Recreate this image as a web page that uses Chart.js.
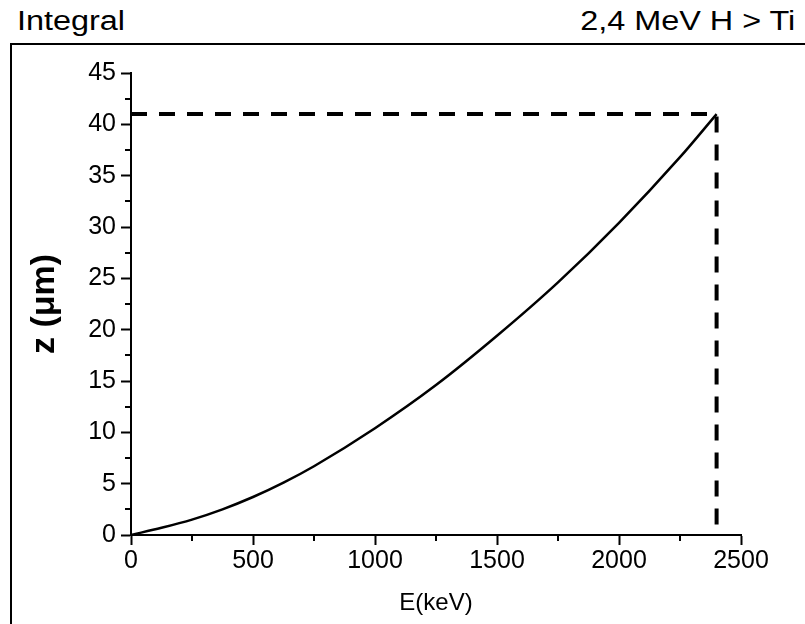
<!DOCTYPE html>
<html>
<head>
<meta charset="utf-8">
<script src="https://cdn.jsdelivr.net/npm/chart.js@4.4.1/dist/chart.umd.min.js"></script>
<style>
  body { margin:0; width:805px; height:624px; overflow:hidden; background:#fff; position:relative; font-family:"Liberation Sans", Arial, sans-serif; }
  .hdr { position:absolute; top:8px; font-size:27px; line-height:27px; color:#000; white-space:nowrap; }
  #hdrL { left:17px; transform:scaleX(1.2); transform-origin:left top; }
  #hdrR { right:10px; transform:scaleX(1.2); transform-origin:right top; }
  #box { position:absolute; left:10px; top:43px; width:820px; height:620px; border-left:2px solid #000; border-top:2px solid #000; }
  #chart { position:absolute; left:0; top:0; }
</style>
</head>
<body>
<div class="hdr" id="hdrL">Integral</div>
<div class="hdr" id="hdrR">2,4 MeV H &gt; Ti</div>
<div id="box"></div>
<canvas id="chart" width="805" height="624"></canvas>
<script>
// energia (keV) y profundidad (um)
var energyKeV = [0, 125, 250, 375, 500, 625, 750, 1000, 1250, 1500, 1750, 2000, 2250, 2400];
var depthUm   = [0, 0.7, 1.5, 2.5, 3.7, 5.1, 6.7, 10.4, 14.6, 19.4, 24.6, 30.4, 36.8, 41.0];

// linea discontinua hasta el punto final
var markerE = 2400;
var markerZ = 41;

var xTicks = [0, 500, 1000, 1500, 2000, 2500];
var yTicks = [0, 5, 10, 15, 20, 25, 30, 35, 40, 45];
var xMinor = [250, 750, 1250, 1750, 2250];
var yMinor = [2.5, 7.5, 12.5, 17.5, 22.5, 27.5, 32.5, 37.5, 42.5];

var curve = energyKeV.map(function (e, i) { return {x: e, y: depthUm[i]}; });
var dashed = [{x: 0, y: markerZ}, {x: markerE, y: markerZ}, {x: markerE, y: 0}];

// ticks menores, dibujados con las escalas de Chart.js
var minorTicks = {
    id: 'minorTicks',
    afterDraw: function (chart) {
        var ctx = chart.ctx;
        var xs = chart.scales.x, ys = chart.scales.y;
        ctx.save();
        ctx.strokeStyle = '#000';
        ctx.lineWidth = 2;
        ctx.beginPath();
        yMinor.forEach(function (v) {
            var py = Math.round(ys.getPixelForValue(v));
            ctx.moveTo(chart.chartArea.left - 6, py);
            ctx.lineTo(chart.chartArea.left, py);
        });
        xMinor.forEach(function (v) {
            var px = Math.round(xs.getPixelForValue(v));
            ctx.moveTo(px, chart.chartArea.bottom);
            ctx.lineTo(px, chart.chartArea.bottom + 6);
        });
        ctx.stroke();
        ctx.restore();
    }
};

var tickFont = {family: '"Liberation Sans", Arial, sans-serif', size: 25};
var plain = function (v) { return String(v); };

new Chart(document.getElementById('chart'), {
    type: 'line',
    data: {
        datasets: [
            {
                data: curve,
                borderColor: '#000',
                borderWidth: 2.5,
                pointRadius: 0,
                cubicInterpolationMode: 'monotone',
                fill: false
            },
            {
                data: dashed,
                borderColor: '#000',
                borderWidth: 4,
                borderDash: [16, 12],
                borderCapStyle: 'butt',
                pointRadius: 0,
                tension: 0,
                fill: false
            }
        ]
    },
    options: {
        responsive: false,
        animation: false,
        devicePixelRatio: 1,
        layout: { padding: {left: 0, top: 73, right: 64, bottom: 0} },
        plugins: { legend: {display: false}, tooltip: {enabled: false} },
        scales: {
            x: {
                type: 'linear',
                min: 0, max: 2500,
                afterFit: function (s) { s.height = 89; },
                afterBuildTicks: function (s) { s.ticks = xTicks.map(function (v) { return {value: v}; }); },
                border: {color: '#000', width: 2},
                grid: {drawOnChartArea: false, tickLength: 10, tickColor: '#000', tickWidth: 2},
                ticks: {color: '#000', font: tickFont, padding: 1, maxRotation: 0, callback: plain},
                title: {display: true, text: 'E(keV)', color: '#000', padding: {top: 0, bottom: 6},
                        font: {family: '"Liberation Sans", Arial, sans-serif', size: 24}}
            },
            y: {
                min: 0, max: 45,
                afterFit: function (s) { s.width = 131; },
                afterBuildTicks: function (s) { s.ticks = yTicks.map(function (v) { return {value: v}; }); },
                border: {color: '#000', width: 2},
                grid: {drawOnChartArea: false, tickLength: 10, tickColor: '#000', tickWidth: 2},
                ticks: {color: '#000', font: tickFont, padding: 5, callback: plain},
                title: {display: true, text: 'z (\u03bcm)', color: '#000', padding: {top: 28, bottom: 0},
                        font: {family: '"Liberation Sans", Arial, sans-serif', size: 34, weight: 'bold', lineHeight: 1}}
            }
        }
    },
    plugins: [minorTicks]
});
</script>
</body>
</html>
